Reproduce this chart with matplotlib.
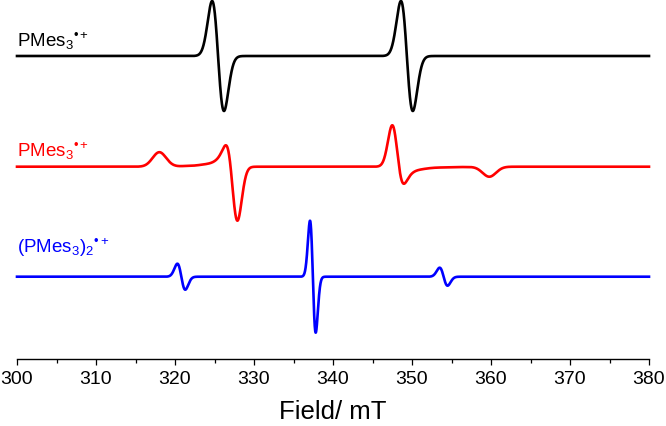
import numpy as np
import matplotlib
matplotlib.use("Agg")
import matplotlib.pyplot as plt
from matplotlib.ticker import MultipleLocator

plt.rcParams["font.family"] = ["Liberation Sans", "DejaVu Sans"]
plt.rcParams["mathtext.fontset"] = "custom"
plt.rcParams["mathtext.rm"] = "Liberation Sans"
plt.rcParams["mathtext.it"] = "Liberation Sans:italic"
plt.rcParams["mathtext.bf"] = "Liberation Sans:bold"

# field axis (mT)
field = np.linspace(300, 380, 8001)

# black: isotropic doublet, derivative lines (centre, sigma, peak height)
black_centres = [325.45, 349.35]
black_sigmas = [0.75, 0.75]
black_heights = [55, 55]

# red: axial powder pattern, one per hyperfine line (B_perp, B_par, weight)
red_perp = [327.55, 347.85]
red_par = [318.0, 359.8]
red_weights = [1.0, 1.08]
red_par_boost = 0.9    # extra intensity toward parallel orientations
red_sigma_perp = 0.64
red_sigma_par = 0.85
red_peak = 54

# blue: dimer, three derivative lines
blue_centres = [320.8, 337.45, 354.0]
blue_sigmas = [0.5, 0.36, 0.5]
blue_heights = [13, 56, 9]

# vertical offsets of the stacked traces
offsets = {"black": 303, "red": 192.3, "blue": 82.3}


def deriv_lines(centres, sigmas, heights):
    y = np.zeros_like(field)
    for c, s, h in zip(centres, sigmas, heights):
        z = (field - c) / s
        y += -h * z * np.exp(0.5 - 0.5 * z**2)
    return y


def powder_trace(perps, pars, weights, boost, s_perp, s_par, peak):
    step = field[1] - field[0]
    edges = np.append(field - step / 2, field[-1] + step / 2)
    absorb = np.zeros_like(field)
    slices = np.linspace(0, 1, 41)
    for u0, u1 in zip(slices[:-1], slices[1:]):
        u = np.linspace(u0, u1, 10001)
        um = 0.5 * (u0 + u1)
        sigma = np.sqrt(s_perp**2 * (1 - um**2) + s_par**2 * um**2)
        part = np.zeros_like(field)
        for bp, bq, w in zip(perps, pars, weights):
            b_res = bp + (bq - bp) * u**2
            hist, _ = np.histogram(b_res, bins=edges, weights=1 + boost * u**2)
            part += w * hist / abs(bq - bp)
        k = np.arange(-5 * sigma, 5 * sigma + step, step)
        kernel = np.exp(-0.5 * (k / sigma) ** 2)
        absorb += np.convolve(part, kernel / kernel.sum(), mode="same")
    d = np.gradient(absorb)
    lo = field < 338
    return d / -d[lo].min() * peak


black = deriv_lines(black_centres, black_sigmas, black_heights)
red = powder_trace(red_perp, red_par, red_weights, red_par_boost,
                   red_sigma_perp, red_sigma_par, red_peak)
blue = deriv_lines(blue_centres, blue_sigmas, blue_heights)

fig = plt.figure(figsize=(6.66, 4.26), dpi=100)
ax = fig.add_axes([17 / 666, 67 / 426, 632 / 666, 359 / 426])

lw = 1.9
ax.plot(field, black + offsets["black"], color="black", lw=lw, clip_on=False)
ax.plot(field, red + offsets["red"], color="#ff0000", lw=lw, clip_on=False)
ax.plot(field, blue + offsets["blue"], color="#0000ff", lw=lw, clip_on=False)

ax.text(300, 312, "PMes$_3$$^{\u2022+}$", color="black", fontsize=13.5,
        va="baseline", ha="left")
ax.text(300, 202, "PMes$_3$$^{\u2022+}$", color="#ff0000", fontsize=13.5,
        va="baseline", ha="left")
ax.text(300, 106, "(PMes$_3$)$_2$$^{\u2022+}$", color="#0000ff", fontsize=13.5,
        va="baseline", ha="left")

ax.set_xlim(300, 380)
ax.set_ylim(0, 359)
for side in ["left", "right", "top"]:
    ax.spines[side].set_visible(False)
ax.spines["bottom"].set_linewidth(1.0)
ax.set_yticks([])
ax.xaxis.set_major_locator(MultipleLocator(10))
ax.xaxis.set_minor_locator(MultipleLocator(5))
ax.tick_params(axis="x", which="major", length=4.5, width=0.9, labelsize=14, pad=4)
ax.tick_params(axis="x", which="minor", length=2.7, width=0.9)
ax.set_xlabel("Field/ mT", fontsize=18.5, labelpad=9)

fig.savefig("out.png", dpi=100)
